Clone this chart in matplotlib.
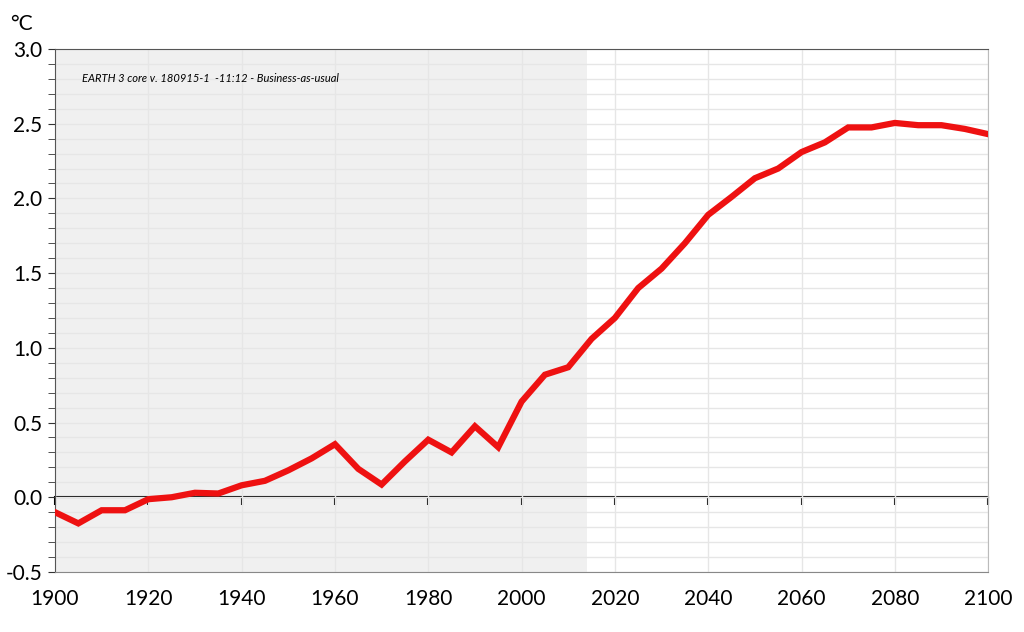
import numpy as np
import matplotlib.pyplot as plt
from matplotlib.ticker import MultipleLocator

# temperature change, business-as-usual scenario (5-year steps)
years = [1900, 1905, 1910, 1915, 1920, 1925, 1930, 1935, 1940, 1945,
         1950, 1955, 1960, 1965, 1970, 1975, 1980, 1985, 1990, 1995,
         2000, 2005, 2010, 2015, 2020, 2025, 2030, 2035, 2040, 2045,
         2050, 2055, 2060, 2065, 2070, 2075, 2080, 2085, 2090, 2095, 2100]
temp = [-0.10, -0.175, -0.087, -0.087, -0.013, 0.0, 0.03, 0.025, 0.08, 0.11,
        0.18, 0.26, 0.355, 0.19, 0.085, 0.24, 0.385, 0.30, 0.475, 0.335,
        0.64, 0.82, 0.87, 1.06, 1.20, 1.40, 1.53, 1.70, 1.89, 2.01,
        2.135, 2.20, 2.31, 2.375, 2.475, 2.475, 2.505, 2.49, 2.49, 2.465, 2.43]
history_end = 2014
year_ticks = list(range(1900, 2101, 20))
label = "EARTH 3 core v. 180915-1  -11:12 - Business-as-usual"

plt.rcParams['font.family'] = ['Lato', 'DejaVu Sans']

fig = plt.figure(figsize=(10.24, 6.32), dpi=100)
ax = fig.add_axes([0.0537, 0.095, 0.9113, 0.8275])

ax.axvspan(1900, history_end, color='#f0f0f0', zorder=0, lw=0)

ax.set_xlim(1900, 2100)
ax.set_ylim(-0.5, 3.0)
ax.set_xticks(year_ticks)
ax.yaxis.set_major_locator(MultipleLocator(0.5))
ax.yaxis.set_minor_locator(MultipleLocator(0.1))
ax.yaxis.set_major_formatter(plt.FuncFormatter(lambda v, p: "%.1f" % v))

ax.grid(True, which='major', axis='x', color='#e6e6e6', lw=1, zorder=1)
ax.grid(True, which='both', axis='y', color='#e6e6e6', lw=1, zorder=1)
ax.set_axisbelow(True)

ax.tick_params(axis='x', length=0, pad=12, labelsize=15)
ax.tick_params(axis='y', which='both', direction='out', length=5, color='#333333',
               labelsize=15, pad=4)

for s in ['left', 'top']:
    ax.spines[s].set_color('#555555')
ax.spines['right'].set_color('#bbbbbb')
ax.spines['bottom'].set_color('#888888')

# zero line with year ticks
sec = ax.secondary_xaxis(0.5 / 3.5)
sec.set_xticks(year_ticks)
sec.set_xticklabels([])
sec.tick_params(direction='out', length=6, width=1.5, color='black')
sec.spines['bottom'].set_color('black')
sec.spines['bottom'].set_linewidth(1.5)

ax.plot(years, temp, color='#ee1111', lw=4.5, zorder=5, solid_joinstyle='miter')

ax.text(1905.8, 2.805, label, fontsize=8, style='italic', va='center')
fig.text(0.010, 0.962, "°C", fontsize=15, va='center')

fig.savefig('out.png', dpi=100)
